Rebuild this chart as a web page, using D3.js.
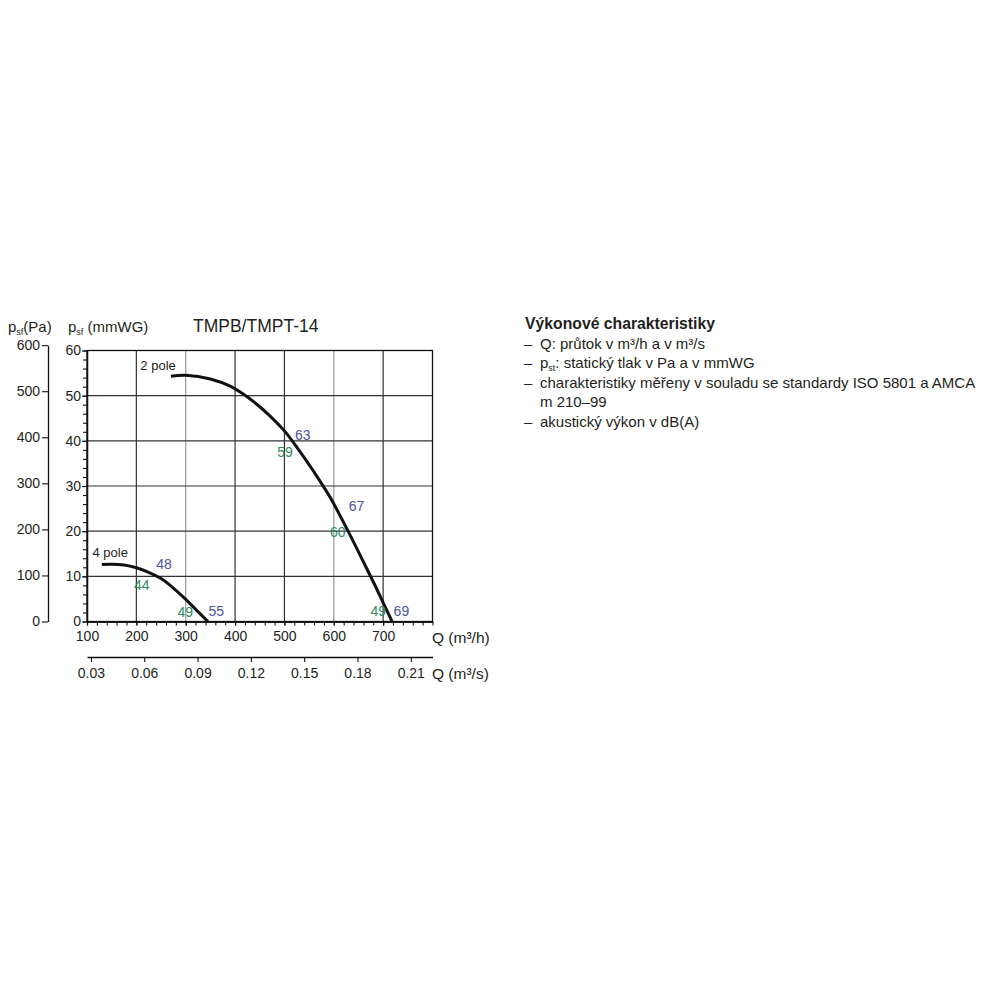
<!DOCTYPE html>
<html>
<head>
<meta charset="utf-8">
<script src="https://cdn.jsdelivr.net/npm/d3@7"></script>
<style>
  html, body { margin: 0; padding: 0; background: #fff; }
  svg { display: block; font-family: "Liberation Sans", Arial, Helvetica, sans-serif; }
</style>
</head>
<body>
<svg id="chart" width="1000" height="1000"></svg>
<script>
// ---- data ----
const flowTicksH = [100, 200, 300, 400, 500, 600, 700];
const flowTicksS = [0.03, 0.06, 0.09, 0.12, 0.15, 0.18, 0.21];
const mmTicks = [0, 10, 20, 30, 40, 50, 60];
const paTicks = [0, 100, 200, 300, 400, 500, 600];

const pole2Q = [270, 300, 350, 390, 430, 470, 500, 525, 560, 592, 629, 655, 680, 700, 718];
const pole2P = [54.3, 54.5, 53.7, 52.1, 49.3, 45.6, 42.2, 38.6, 33.1, 27.6, 20.0, 14.3, 8.8, 4.2, 0];
const pole4Q = [130, 150, 175, 200, 225, 250, 275, 300, 322, 345];
const pole4P = [12.6, 12.7, 12.5, 11.9, 10.9, 9.5, 7.4, 4.9, 2.5, 0];

const curveNames = ["2 pole", "4 pole"];
const curveNameQ = [244, 147];
const curveNameP = [56.6, 15.3];

const blueLabels = ["63", "67", "69", "48", "55"];
const blueQ = [537, 646, 737, 256, 362];
const blueP = [41.3, 25.6, 2.3, 12.7, 2.2];
const greenLabels = ["59", "60", "49", "44", "49"];
const greenQ = [501, 608, 690, 211, 299];
const greenP = [37.6, 19.9, 2.3, 8.1, 2.0];

const infoTitle = "Výkonové charakteristiky";

// ---- layout ----
const svg = d3.select("#chart");
const L = 87, R = 432.5, T = 350.5, B = 621.5;
const x = d3.scaleLinear().domain([100, 800]).range([L, R]);
const xs = d3.scaleLinear().domain([100 / 3600, 800 / 3600]).range([L, R]);
const y = d3.scaleLinear().domain([0, 60]).range([B, T]);
const yPa = d3.scaleLinear().domain([0, 600]).range([B, y(600 / 9.80665)]);

const textCol = "#231f20";
const blue = "#4a55a0";
const green = "#2f8a5c";

// grid
const g = svg.append("g");
g.selectAll("line.v").data(flowTicksH.slice(1)).enter().append("line")
  .attr("x1", d => x(d)).attr("x2", d => x(d)).attr("y1", T).attr("y2", B)
  .attr("stroke", d => (d === 300 || d === 600) ? "#9a9a9a" : "#333").attr("stroke-width", 1.2);
g.selectAll("line.h").data(mmTicks.slice(1, -1)).enter().append("line")
  .attr("x1", L).attr("x2", R).attr("y1", d => y(d)).attr("y2", d => y(d))
  .attr("stroke", "#333").attr("stroke-width", 1.2);
g.append("rect").attr("x", L).attr("y", T).attr("width", R - L).attr("height", B - T)
  .attr("fill", "none").attr("stroke", "#111").attr("stroke-width", 1.3);

function styleAxis(sel, fs) {
  sel.selectAll("path.domain").attr("stroke", "#111").attr("stroke-width", 1.3);
  sel.selectAll(".tick line").attr("stroke", "#111").attr("stroke-width", 1.1);
  sel.selectAll(".tick text").attr("fill", textCol).style("font-size", fs + "px")
    .style("font-family", "'Liberation Sans', Arial, sans-serif");
}

// Pa axis
const aPa = svg.append("g").attr("transform", "translate(48,0)")
  .call(d3.axisLeft(yPa).tickValues(paTicks).tickSize(6).tickSizeOuter(0).tickPadding(2));
styleAxis(aPa, 14);

// mmWG axis minor + major
const aMmMinor = svg.append("g").attr("transform", `translate(${L},0)`)
  .call(d3.axisLeft(y).tickValues(d3.range(0, 61, 2)).tickSize(4).tickSizeOuter(0).tickFormat(""));
styleAxis(aMmMinor, 14);
const aMm = svg.append("g").attr("transform", `translate(${L},0)`)
  .call(d3.axisLeft(y).tickValues(mmTicks).tickSize(5).tickSizeOuter(0).tickPadding(1));
styleAxis(aMm, 14);

// bottom axis m3/h
const aXMinor = svg.append("g").attr("transform", `translate(0,${B})`)
  .call(d3.axisBottom(x).tickValues(d3.range(100, 801, 20)).tickSize(4).tickSizeOuter(0).tickFormat(""));
styleAxis(aXMinor, 14);
const aX = svg.append("g").attr("transform", `translate(0,${B})`)
  .call(d3.axisBottom(x).tickValues(flowTicksH).tickSize(4).tickSizeOuter(0).tickPadding(6));
styleAxis(aX, 14);

// second axis m3/s
const aXs = svg.append("g").attr("transform", "translate(0,657)")
  .call(d3.axisBottom(xs).tickValues(flowTicksS).tickSize(5).tickSizeOuter(0).tickPadding(6).tickFormat(d3.format(".2f")));
styleAxis(aXs, 14);

// axis titles
svg.append("text").attr("x", 432).attr("y", 643).attr("fill", textCol).style("font-size", "15.5px").text("Q (m³/h)");
svg.append("text").attr("x", 432).attr("y", 679).attr("fill", textCol).style("font-size", "15.5px").text("Q (m³/s)");

function subLabel(xp, main, sub, rest) {
  const t = svg.append("text").attr("x", xp).attr("y", 331.5).attr("fill", textCol).style("font-size", "15px");
  t.append("tspan").text(main);
  t.append("tspan").attr("dy", 3).style("font-size", "9px").text(sub);
  t.append("tspan").attr("dy", -3).text(rest);
}
subLabel(8, "p", "sf", "(Pa)");
subLabel(68, "p", "sf", " (mmWG)");

svg.append("text").attr("x", 193).attr("y", 331.5).attr("fill", textCol)
  .style("font-size", "17.5px").text("TMPB/TMPT-14");

// curves
const line = d3.line().x(d => x(d[0])).y(d => y(d[1])).curve(d3.curveCatmullRom.alpha(0.5));
svg.append("path").datum(d3.zip(pole2Q, pole2P)).attr("d", line)
  .attr("fill", "none").attr("stroke", "#111").attr("stroke-width", 3).attr("stroke-linecap", "butt");
svg.append("path").datum(d3.zip(pole4Q, pole4P)).attr("d", line)
  .attr("fill", "none").attr("stroke", "#111").attr("stroke-width", 3).attr("stroke-linecap", "butt");

// labels
svg.selectAll("text.cn").data(curveNames).enter().append("text")
  .attr("x", (d, i) => x(curveNameQ[i])).attr("y", (d, i) => y(curveNameP[i]))
  .attr("text-anchor", "middle").attr("dy", "0.35em").attr("fill", textCol)
  .style("font-size", "13px").text(d => d);
svg.selectAll("text.bl").data(blueLabels).enter().append("text")
  .attr("x", (d, i) => x(blueQ[i])).attr("y", (d, i) => y(blueP[i]))
  .attr("text-anchor", "middle").attr("dy", "0.35em").attr("fill", blue)
  .style("font-size", "14px").text(d => d);
svg.selectAll("text.gr").data(greenLabels).enter().append("text")
  .attr("x", (d, i) => x(greenQ[i])).attr("y", (d, i) => y(greenP[i]))
  .attr("text-anchor", "middle").attr("dy", "0.35em").attr("fill", green)
  .style("font-size", "14px").text(d => d);

// info block
const info = svg.append("g").attr("fill", textCol).style("font-size", "15px");
info.append("text").attr("x", 525).attr("y", 329).style("font-weight", "bold").style("font-size", "15.75px").text(infoTitle);
function bullet(yb, parts, dash) {
  if (dash) info.append("text").attr("x", 524).attr("y", yb).text("–");
  const t = info.append("text").attr("x", 540).attr("y", yb);
  parts.forEach(p => {
    const s = t.append("tspan").text(p.t);
    if (p.sub) s.attr("dy", 3).style("font-size", "9px");
    if (p.back) s.attr("dy", -3);
  });
}
bullet(348.5, [{t: "Q: průtok v m³/h a v m³/s"}], true);
bullet(368, [{t: "p"}, {t: "st", sub: true}, {t: ": statický tlak v Pa a v mmWG", back: true}], true);
bullet(387.5, [{t: "charakteristiky měřeny v souladu se standardy ISO 5801 a AMCA"}], true);
bullet(407, [{t: "m 210–99"}], false);
bullet(427, [{t: "akustický výkon v dB(A)"}], true);
</script>
</body>
</html>
